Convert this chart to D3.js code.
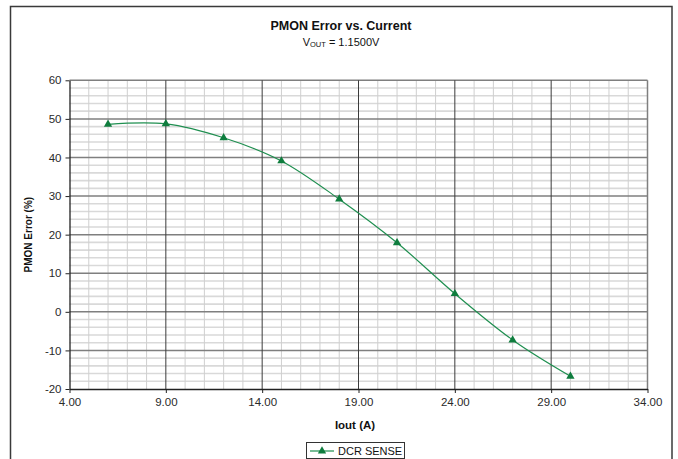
<!DOCTYPE html>
<html><head><meta charset="utf-8">
<script src="https://cdn.jsdelivr.net/npm/d3@7"></script>
<style>body{margin:0;background:#fff}svg{display:block;font-family:"Liberation Sans",Arial,sans-serif}</style>
</head><body><svg id="c" width="678" height="459"></svg>
<script>
const currents = [6, 9, 12, 15, 18, 21, 24, 27, 30];
const errors = [48.6, 48.7, 45.1, 39.1, 29.2, 17.9, 4.7, -7.3, -16.7];
const xTicks = [4, 9, 14, 19, 24, 29, 34];
const yTicks = [-20, -10, 0, 10, 20, 30, 40, 50, 60];
const seriesName = "DCR SENSE";

const svg = d3.select("#c");
const L = 69.5, R = 647.5, T = 80.3, B = 389;
const x = d3.scaleLinear().domain([4, 34]).range([L, R]);
const y = d3.scaleLinear().domain([-20, 60]).range([B, T]);

// frame
svg.append("rect").attr("x", 10.5).attr("y", 6.5).attr("width", 661.5).attr("height", 470)
  .attr("fill", "#fff").attr("stroke", "#3a3a3a").attr("stroke-width", 1.5);

const g = svg.append("g");
g.selectAll(".hm").data(d3.range(-20, 60.01, 2).filter(v => v % 10 !== 0)).join("line")
  .attr("x1", L).attr("x2", R).attr("y1", d => y(d)).attr("y2", d => y(d))
  .attr("stroke", "#d9d9d9").attr("stroke-width", 1.6);
g.selectAll(".vm").data(d3.range(5, 34, 1).filter(v => (v - 4) % 5 !== 0)).join("line")
  .attr("y1", T).attr("y2", B).attr("x1", d => x(d)).attr("x2", d => x(d))
  .attr("stroke", "#cfcfcf").attr("stroke-width", 1);
g.selectAll(".hM").data(yTicks.slice(1)).join("line")
  .attr("x1", L).attr("x2", R).attr("y1", d => y(d)).attr("y2", d => y(d))
  .attr("stroke", "#7f7f7f").attr("stroke-width", 1.5);
g.selectAll(".vM").data(xTicks.slice(1, -1)).join("line")
  .attr("y1", T).attr("y2", B).attr("x1", d => x(d)).attr("x2", d => x(d))
  .attr("stroke", "#3c3c3c").attr("stroke-width", 1);
g.append("line").attr("x1", R).attr("x2", R).attr("y1", T).attr("y2", B)
  .attr("stroke", "#7f7f7f").attr("stroke-width", 1.5);

const xAxis = svg.append("g").attr("transform", `translate(0,${B})`)
  .call(d3.axisBottom(x).tickValues(xTicks).tickFormat(d => d.toFixed(2)).tickSizeInner(4).tickSizeOuter(0).tickPadding(5));
const yAxis = svg.append("g").attr("transform", `translate(${L},0)`)
  .call(d3.axisLeft(y).tickValues(yTicks).tickFormat(d => String(d)).tickSizeInner(4).tickSizeOuter(0).tickPadding(4));
[xAxis, yAxis].forEach(a => {
  a.select(".domain").attr("stroke", "#222").attr("stroke-width", 1.3);
  a.selectAll(".tick line").attr("stroke", "#222");
  a.selectAll("text").attr("font-size", 11.5).attr("fill", "#2a2a2a").attr("font-family", '"Liberation Sans",Arial,sans-serif');
});

const line = d3.line().x((d, i) => x(currents[i])).y(d => y(d)).curve(d3.curveCardinal.tension(0));
svg.append("path").datum(errors).attr("d", line).attr("fill", "none")
  .attr("stroke", "#1f8f50").attr("stroke-width", 1.2);
const tri = d3.symbol().type(d3.symbolTriangle).size(30);
svg.selectAll(".pt").data(errors).join("path")
  .attr("d", tri).attr("transform", (d, i) => `translate(${x(currents[i])},${y(d)})`)
  .attr("fill", "#0f7d3e");

svg.append("text").attr("x", 341).attr("y", 29.5).attr("text-anchor", "middle")
  .attr("font-size", 12.5).attr("font-weight", "bold").attr("fill", "#111").text("PMON Error vs. Current");
const st = svg.append("text").attr("x", 341).attr("y", 45.5).attr("text-anchor", "middle")
  .attr("font-size", 11).attr("fill", "#111");
st.append("tspan").text("V");
st.append("tspan").attr("font-size", 7.5).attr("dy", 1.5).text("OUT");
st.append("tspan").attr("dy", -1.5).text(" = 1.1500V");

svg.append("text").attr("x", 355).attr("y", 429).attr("text-anchor", "middle")
  .attr("font-size", 11.5).attr("font-weight", "bold").attr("fill", "#111").text("Iout (A)");
svg.append("text").attr("transform", `translate(32,${(T + B) / 2}) rotate(-90)`).attr("text-anchor", "middle")
  .attr("font-size", 10).attr("font-weight", "bold").attr("fill", "#111").text("PMON Error (%)");

const lg = svg.append("g");
lg.append("rect").attr("x", 306.5).attr("y", 442.5).attr("width", 98).attr("height", 16)
  .attr("fill", "#fff").attr("stroke", "#333").attr("stroke-width", 1);
lg.append("line").attr("x1", 310).attr("x2", 334).attr("y1", 451).attr("y2", 451)
  .attr("stroke", "#1f8f50").attr("stroke-width", 1.2);
lg.append("path").attr("d", tri).attr("transform", "translate(322,451)").attr("fill", "#0f7d3e");
lg.append("text").attr("x", 338).attr("y", 455).attr("font-size", 11).attr("fill", "#111").text(seriesName);
</script></body></html>
